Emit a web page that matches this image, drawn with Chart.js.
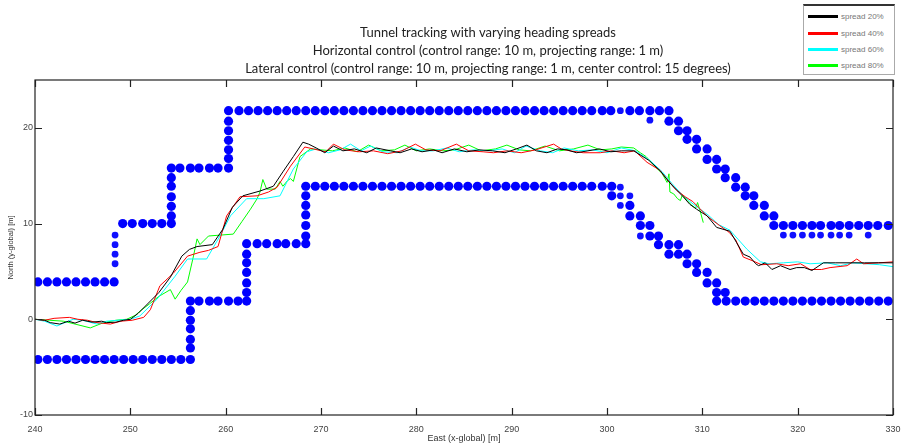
<!DOCTYPE html>
<html><head><meta charset="utf-8">
<script src="https://cdn.jsdelivr.net/npm/chart.js@4.4.1/dist/chart.umd.min.js"></script>
<style>
html,body{margin:0;padding:0;background:#fff;}
#wrap{position:relative;width:902px;height:446px;}
#legend{position:absolute;left:803px;top:4px;width:92px;height:71px;border:1px solid #aaa;border-top:2px solid #333;background:#fff;font-family:"Liberation Sans",Arial,sans-serif;font-size:8px;color:#777;box-sizing:border-box;}
.row{position:absolute;left:4px;height:10px;display:flex;align-items:center;white-space:nowrap;}
.sw{width:30px;height:3px;margin-right:3px;}
</style></head>
<body>
<div id="wrap"><canvas id="c"></canvas>
<div id="legend"></div></div>
<script>
// ---- data ----
const titleLines = ['Tunnel tracking with varying heading spreads',
  'Horizontal control (control range: 10 m, projecting range: 1 m)',
  'Lateral control (control range: 10 m, projecting range: 1 m, center control: 15 degrees)'];
const xTicks = [240,250,260,270,280,290,300,310,320,330];
const yTicks = [-10,0,10,20];
const seriesNames = ['spread 20%','spread 40%','spread 60%','spread 80%'];
const seriesColors = ['#000000','#ff0000','#00ffff','#00ff00'];

const spread20 = [[240,0],[241,-0.1],[241.6,-0.35],[242.6,-0.5],[243.5,-0.2],[244.2,-0.4],[245,-0.1],[246,-0.3],[247,-0.2],[247.5,-0.35],[248.5,-0.3],[249.3,-0.1],[250,0],[250.8,0.6],[251.8,1.6],[253,2.8],[254.2,4.4],[255.4,6.6],[256.2,7.3],[257,7.6],[258.6,7.8],[259.7,9.4],[260.7,11.7],[261.8,12.9],[263.6,13.4],[265,13.9],[266,15.4],[267.1,17.0],[268.1,18.5],[268.7,18.3],[269.5,17.9],[270.4,17.4],[271.3,18.1],[272.3,17.6],[273.5,17.8],[274.8,17.4],[275.8,17.9],[277.3,17.6],[278.3,17.4],[279.5,17.8],[280.6,17.5],[281.8,17.7],[282.7,17.4],[284,17.8],[285.3,17.5],[286.6,17.7],[288,17.6],[289.3,17.4],[290.5,17.8],[291.6,18.2],[292.6,17.6],[293.7,17.4],[294.8,17.8],[295.8,17.7],[296.8,17.4],[298,17.6],[299.2,17.8],[300.4,17.5],[301.5,17.6],[302.8,17.6],[304.4,16.6],[305.6,15.5],[306.3,14.6],[307,13.8],[307.9,12.9],[308.7,12.0],[309.4,11.5],[310.5,10.8],[311.5,9.6],[312.9,9.2],[313.6,8.0],[314.3,6.8],[315,6.5],[315.6,5.8],[315.9,5.6],[316.6,5.9],[317.3,5.2],[318.2,5.6],[319.2,5.2],[319.9,5.4],[320.7,5.4],[321.5,5.1],[322.7,5.9],[324,5.9],[325.5,5.9],[327,5.9],[328.5,5.9],[330,5.9]];
const spread40 = [[240,0],[241,-0.1],[242,0.1],[243.6,0.2],[244.5,0],[245.5,-0.1],[246.5,-0.35],[247.9,-0.5],[249,-0.2],[250.2,-0.1],[251.4,0.2],[252.1,1.0],[253.1,3.5],[254.5,4.8],[256,6.6],[257.3,7.0],[258.2,7.2],[259.2,7.6],[260.1,10.8],[261.5,12.8],[263.3,12.9],[264.5,13.3],[265.4,13.8],[266.8,16.0],[268.3,18.0],[269.2,17.8],[270.5,17.5],[271.3,18.3],[272.5,17.7],[274,17.5],[275.5,17.6],[277,17.3],[278.5,17.6],[279.9,18.3],[281,17.7],[282.5,17.6],[284.2,18.3],[285.5,17.6],[287,17.5],[288.1,17.4],[289.5,17.6],[291,17.4],[292.5,17.7],[294.4,18.3],[295.2,17.8],[296.1,17.6],[297.5,17.4],[299.3,17.4],[300.5,17.6],[301.8,17.4],[302.9,17.6],[304.2,16.4],[305.5,15.6],[306.5,14.4],[307.3,13.5],[308.2,12.8],[309,12.3],[309.6,11.7],[310.6,10.7],[311.8,9.8],[312.8,9.1],[313.5,8.3],[314.3,6.5],[315.3,6.1],[316.2,5.7],[317.8,5.8],[319,5.6],[320.3,5.8],[321.3,5.2],[322.5,5.2],[323.4,5.4],[325.2,5.6],[326.2,6.3],[326.9,5.8],[328.5,5.9],[330,6.0]];
const spread60 = [[240,0],[241,-0.2],[242.3,-0.7],[243,-0.4],[244,0],[245,-0.1],[246.5,-0.5],[247.5,-0.2],[248.7,-0.1],[250,0],[251,0.35],[252.8,2.1],[254.7,4.5],[256,6.3],[258,6.3],[259.4,8.7],[260.5,10.8],[262.2,12.6],[264,12.6],[265.7,12.9],[267.1,15.7],[268.5,17.5],[269.5,17.8],[270.8,17.4],[272,17.7],[273.1,18.3],[274.2,17.6],[275.2,18.1],[276.5,17.5],[278,17.4],[279.3,18.0],[280.5,17.6],[281.8,17.6],[283.2,17.9],[284.5,17.5],[286,17.7],[287.5,17.6],[289,17.8],[290.3,17.4],[291.5,18.1],[293,17.6],[294.3,17.4],[295.5,17.9],[297,17.6],[298.5,17.7],[300,17.4],[301.5,17.9],[303,17.6],[304.5,16.6],[305.8,15.4],[306.8,14.2],[307.8,13.1],[308.7,12.3],[309.5,11.7],[310.6,10.9],[311.7,9.9],[312.9,9.3],[313.8,8.3],[314.7,7.3],[316.1,6.0],[317,5.8],[318.5,5.9],[320,6.0],[321.3,5.8],[323.1,5.9],[324.5,5.6],[325.8,5.9],[327.2,5.8],[328.6,5.7],[330,5.5]];
const spread80 = [[240,0],[241.5,-0.1],[243,-0.2],[244.2,-0.5],[245.8,-0.9],[247.2,-0.35],[248.5,-0.1],[249.6,0],[250.5,0.4],[251.2,1.0],[252,1.6],[253,2.4],[254.2,3.1],[254.7,2.1],[255.3,3.0],[256,3.9],[256.6,6.5],[257,8.4],[257.3,7.8],[258.2,8.7],[259.5,8.8],[260.8,8.9],[261.7,10.2],[262.6,11.5],[263.3,12.6],[263.6,13.3],[263.9,14.6],[264.3,13.6],[265.2,13.6],[265.7,14.4],[266,13.9],[266.5,14.5],[266.8,14.7],[267.1,14.4],[267.8,17.0],[268.9,17.8],[270,17.7],[271.2,17.6],[272.5,17.9],[273.8,17.5],[275,18.2],[276.3,17.6],[277.7,17.7],[278.8,18.2],[280,17.6],[281.4,17.8],[282.8,17.6],[284,17.7],[285.5,18.2],[286.8,17.6],[288.3,17.8],[289.5,18.2],[290.8,17.7],[292,17.6],[293.5,18.1],[295,17.6],[296.5,17.8],[298,18.2],[299.3,17.7],[300.5,17.8],[301.5,18.0],[302.8,17.9],[303.5,17.4],[304.1,17.0],[305,16.0],[305.8,15.2],[306.3,14.3],[306.5,15.2],[306.6,13.3],[307,13.1],[307.4,12.6],[307.7,12.4],[307.9,13.0],[308.4,12.4],[308.9,11.9],[309.3,11.6],[309.5,12.2],[309.8,11.2],[310.1,10.1]];

// tunnel walls (large markers)
const upperWall = [[240.3,3.9],[241.3,3.9],[242.3,3.9],[243.3,3.9],[244.3,3.9],[245.3,3.9],[246.3,3.9],[247.3,3.9],[248.3,3.9],
  [249.2,10],[250.2,10],[251.3,10],[252.3,10],[253.3,10],[254.3,10],
  [254.3,10.8],[254.3,11.8],[254.3,12.8],[254.3,13.9],[254.3,14.8],[254.3,15.8],
  [255.2,15.8],[256.3,15.8],[257.2,15.8],[258.3,15.8],[259.2,15.8],[260.3,15.8],
  [260.3,16.8],[260.3,17.7],[260.3,18.7],[260.3,19.7],[260.3,20.7],[260.3,21.8],
  [261.4,21.8],[262.4,21.8],[263.4,21.8],[264.4,21.8],[265.4,21.8],[266.4,21.8],[267.4,21.8],[268.4,21.8],[269.4,21.8],[270.4,21.8],
  [271.4,21.8],[272.4,21.8],[273.4,21.8],[274.4,21.8],[275.4,21.8],[276.4,21.8],[277.4,21.8],[278.4,21.8],[279.4,21.8],[280.4,21.8],
  [281.4,21.8],[282.4,21.8],[283.4,21.8],[284.4,21.8],[285.4,21.8],[286.4,21.8],[287.4,21.8],[288.4,21.8],[289.4,21.8],[290.4,21.8],
  [291.4,21.8],[292.4,21.8],[293.4,21.8],[294.4,21.8],[295.4,21.8],[296.4,21.8],[297.4,21.8],[298.4,21.8],[299.5,21.8],[300.4,21.8],
  [302.4,21.8],[303.4,21.8],[304.5,21.8],[305.5,21.8],[306.5,21.8],
  [306.5,20.7],[307.5,20.7],[307.5,19.7],[308.4,19.7],[308.4,18.8],[309.4,18.8],[309.4,17.8],[310.5,17.8],[310.5,16.7],[311.5,16.7],
  [311.5,15.7],[312.4,15.7],[312.4,14.8],[313.5,14.8],[313.5,13.8],[314.5,13.8],[314.5,12.9],[315.4,12.9],[315.4,11.9],[316.5,11.9],
  [316.5,10.8],[317.5,10.8],[317.5,9.8],
  [318.5,9.8],[319.5,9.8],[320.5,9.8],[321.5,9.8],[322.4,9.8],[323.5,9.8],[324.4,9.8],[325.4,9.8],[326.4,9.8],[327.4,9.8],[328.4,9.8],[329.5,9.8]];
const lowerWall = [[240.3,-4.2],[241.3,-4.2],[242.3,-4.2],[243.3,-4.2],[244.3,-4.2],[245.3,-4.2],[246.3,-4.2],[247.3,-4.2],[248.3,-4.2],
  [249.3,-4.2],[250.3,-4.2],[251.3,-4.2],[252.3,-4.2],[253.3,-4.2],[254.3,-4.2],[255.3,-4.2],[256.3,-4.2],
  [256.3,-3.0],[256.3,-2.1],[256.3,-1.0],[256.3,-0.1],[256.3,0.9],[256.3,1.9],
  [257.2,1.9],[258.3,1.9],[259.2,1.9],[260.3,1.9],[261.3,1.9],[262.2,1.9],
  [262.2,2.8],[262.2,3.8],[262.2,4.9],[262.2,5.9],[262.2,6.8],[262.2,7.9],
  [263.3,7.9],[264.3,7.9],[265.4,7.9],[266.3,7.9],[267.4,7.9],[268.4,7.9],
  [268.4,8.7],[268.4,9.8],[268.4,10.9],[268.4,11.9],[268.4,12.9],[268.4,13.9],
  [269.4,13.9],[270.4,13.9],[271.4,13.9],[272.4,13.9],[273.4,13.9],[274.4,13.9],[275.4,13.9],[276.4,13.9],[277.4,13.9],[278.4,13.9],
  [279.4,13.9],[280.4,13.9],[281.4,13.9],[282.4,13.9],[283.4,13.9],[284.4,13.9],[285.4,13.9],[286.4,13.9],[287.4,13.9],[288.4,13.9],
  [289.4,13.9],[290.4,13.9],[291.4,13.9],[292.4,13.9],[293.4,13.9],[294.4,13.9],[295.4,13.9],[296.4,13.9],[297.4,13.9],[298.4,13.9],
  [299.5,13.9],[300.5,13.9],
  [300.5,12.9],[302.4,11.9],[302.4,10.8],[303.5,10.8],[303.5,9.8],[304.5,9.8],[304.5,8.7],[305.4,8.7],[305.4,7.8],
  [306.5,7.8],[306.5,6.8],[307.5,6.8],[307.5,7.8],[308.4,6.8],[308.4,5.8],[309.4,5.8],[309.4,4.9],[310.5,4.9],[310.5,3.8],
  [311.5,3.8],[311.5,2.8],[312.4,2.8],
  [311.5,1.9],[312.5,1.9],[313.5,1.9],[314.5,1.9],[315.5,1.9],[316.5,1.9],[317.5,1.9],[318.5,1.9],[319.5,1.9],[320.5,1.9],
  [321.5,1.9],[322.5,1.9],[323.5,1.9],[324.5,1.9],[325.5,1.9],[326.5,1.9],[327.5,1.9],[328.5,1.9],[329.5,1.9]];
// smaller star-like wall markers
const wallStars = [[248.4,5.8],[248.4,6.8],[248.4,7.8],[248.4,8.8],[301.4,21.8],[304.5,20.8],
  [301.4,13.8],[301.4,12.9],[301.4,11.9],[302.4,12.9],[303.5,8.7],
  [318.5,8.8],[319.5,8.8],[320.5,8.8],[321.5,8.8],[322.4,8.8],[323.5,8.8],[324.4,8.8],[325.4,8.8],[327.4,8.8]];

// ---- chart ----
const pts = a => a.map(p => ({x:p[0], y:p[1]}));
const seriesData = [spread20, spread40, spread60, spread80];

const lineSets = seriesData.map((d,i) => ({
  label: seriesNames[i], data: pts(d), showLine: true, borderColor: seriesColors[i],
  backgroundColor: seriesColors[i], borderWidth: 1, pointRadius: 0, tension: 0, order: 0
}));
const wallSets = [
  {label:'upper', data: pts(upperWall), showLine:false, pointRadius:4.6, pointStyle:'circle', backgroundColor:'#0000ff', borderColor:'#0000ff', borderWidth:0, order:1},
  {label:'lower', data: pts(lowerWall), showLine:false, pointRadius:4.6, pointStyle:'circle', backgroundColor:'#0000ff', borderColor:'#0000ff', borderWidth:0, order:1},
  {label:'stars', data: pts(wallStars), showLine:false, pointRadius:3.4, pointStyle:'circle', backgroundColor:'#1010ff', borderColor:'#1010ff', borderWidth:0, order:1}
];

const frame = {
  id:'frame',
  afterDatasetsDraw(chart){
    const {ctx, chartArea:{left,right,top,bottom}, scales:{x,y}} = chart;
    ctx.save();
    ctx.strokeStyle = '#222'; ctx.lineWidth = 1.2;
    ctx.strokeRect(left, top, right-left, bottom-top);
    ctx.beginPath();
    xTicks.forEach(v => { const p = Math.round(x.getPixelForValue(v))+0.5;
      ctx.moveTo(p,bottom); ctx.lineTo(p,bottom-7); ctx.moveTo(p,top); ctx.lineTo(p,top+7); });
    yTicks.forEach(v => { const p = Math.round(y.getPixelForValue(v))+0.5;
      ctx.moveTo(left,p); ctx.lineTo(left+7,p); ctx.moveTo(right,p); ctx.lineTo(right-7,p); });
    ctx.stroke();
    ctx.restore();
  }
};
const titlePlugin = {
  id:'tunnelTitle',
  afterDraw(chart){
    const ctx = chart.ctx;
    ctx.save();
    ctx.font = '13px Lato, "Open Sans", sans-serif';
    ctx.fillStyle = '#222'; ctx.textAlign = 'center'; ctx.textBaseline = 'middle';
    const ys = [33, 50.5, 68.5];
    titleLines.forEach((t,i) => ctx.fillText(t, 488, ys[i]));
    ctx.restore();
  }
};

new Chart(document.getElementById('c'), {
  type:'scatter',
  data:{datasets:[...lineSets, ...wallSets]},
  options:{
    responsive:true, maintainAspectRatio:false, animation:false,
    layout:{padding:{top:80, right:9, left:0, bottom:0}},
    plugins:{legend:{display:false}, title:{display:false}, tooltip:{enabled:false}},
    scales:{
      x:{type:'linear', min:240, max:330,
        afterBuildTicks: s => { s.ticks = xTicks.map(v => ({value:v})); },
        afterFit: s => { s.height = 31; s.paddingLeft = 0; s.paddingRight = 0; },
        grid:{display:false, drawTicks:false}, border:{display:false},
        ticks:{font:{size:9, family:'"Liberation Sans", Arial'}, color:'#444', padding:9, maxRotation:0, autoSkip:false},
        title:{display:true, text:'East (x-global) [m]', font:{size:9, family:'"Liberation Sans", Arial'}, color:'#333', padding:{top:0,bottom:2}}
      },
      y:{type:'linear', min:-10, max:25,
        afterBuildTicks: s => { s.ticks = yTicks.map(v => ({value:v})); },
        afterFit: s => { s.width = 35; s.paddingTop = 0; s.paddingBottom = 0; },
        grid:{display:false, drawTicks:false}, border:{display:false},
        ticks:{font:{size:9, family:'"Liberation Sans", Arial'}, color:'#444', padding:2},
        title:{display:true, text:'North (y-global) [m]', font:{size:7.5, family:'"Liberation Sans", Arial'}, color:'#333', padding:{top:6,bottom:2}}
      }
    }
  },
  plugins:[frame, titlePlugin]
});

// legend (HTML)
const lg = document.getElementById('legend');
const rowY = [5, 22, 38, 54];
seriesNames.forEach((n,i) => {
  const r = document.createElement('div'); r.className = 'row'; r.style.top = rowY[i]+'px';
  const s = document.createElement('span'); s.className = 'sw'; s.style.background = seriesColors[i];
  const t = document.createElement('span'); t.textContent = n;
  r.appendChild(s); r.appendChild(t); lg.appendChild(r);
});
</script>
</body></html>
